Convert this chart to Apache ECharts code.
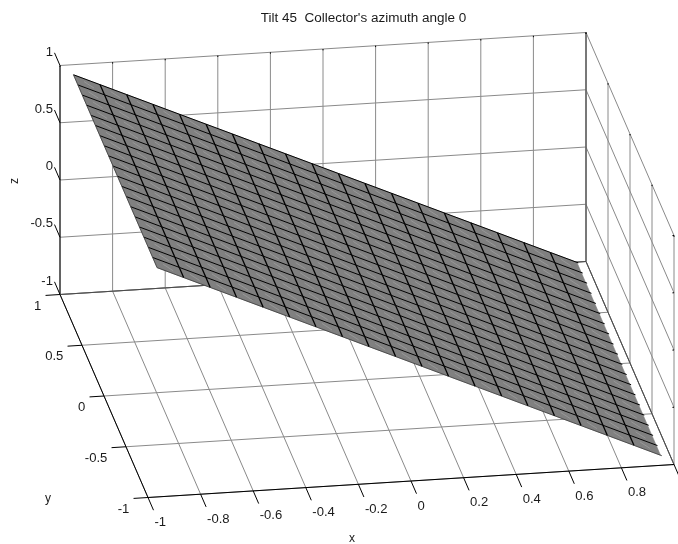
<!DOCTYPE html>
<html>
<head>
<meta charset="utf-8">
<style>html,body{margin:0;padding:0;background:#fff}#main{width:678px;height:544px}</style>
<script src="https://cdn.jsdelivr.net/npm/echarts@6/dist/echarts.min.js"></script>
</head>
<body>
<div id="main"></div>
<script>
// ---- data ----
const xTicks = [-1, -0.8, -0.6, -0.4, -0.2, 0, 0.2, 0.4, 0.6, 0.8, 1];
const yTicks = [-1, -0.5, 0, 0.5, 1];
const zTicks = [-1, -0.5, 0, 0.5, 1];
const xTickLabels = ['-1', '-0.8', '-0.6', '-0.4', '-0.2', '0', '0.2', '0.4', '0.6', '0.8'];
const yTickLabels = ['-1', '-0.5', '0', '0.5', '1'];
const zTickLabels = ['-1', '-0.5', '0', '0.5', '1'];
const surfaceX = [-0.957, -0.856, -0.755, -0.655, -0.554, -0.453, -0.353, -0.252, -0.151, -0.05, 0.05, 0.151, 0.252, 0.353, 0.453, 0.554, 0.655, 0.755, 0.856, 0.957];
const surfaceY = [-0.95, -0.85, -0.75, -0.65, -0.55, -0.45, -0.35, -0.25, -0.15, -0.05, 0.05, 0.15, 0.25, 0.35, 0.45, 0.55, 0.65, 0.75, 0.85, 0.95];
// height of the tilted plane for each surfaceX column (constant along y)
const surfaceZ = [0.957, 0.856, 0.755, 0.655, 0.554, 0.453, 0.353, 0.252, 0.151, 0.05, -0.05, -0.151, -0.252, -0.353, -0.453, -0.554, -0.655, -0.755, -0.856, -0.957];
const titleText = "Tilt 45  Collector's azimuth angle 0";

// ---- orthographic view of the 3-D box onto the page plane ----
const VIEW = { cx: 367, cy: 265, ex: [263, -16.5], ey: [-44, -101.5], ez: [0, -114.5] };
function project(x, y, z) {
  return [
    VIEW.cx + x * VIEW.ex[0] + y * VIEW.ey[0] + z * VIEW.ez[0],
    VIEW.cy + x * VIEW.ex[1] + y * VIEW.ey[1] + z * VIEW.ez[1]
  ];
}

const GRID = '#8a8a8a', AXIS = '#000000', EDGE = '#3a3a3a';
const STYLES = [
  { stroke: GRID, lineWidth: 1 },
  { stroke: AXIS, lineWidth: 1 },
  { stroke: '#4a4a4a', lineWidth: 1 }
];

// ---- box: walls, floor, axes, ticks ----
const box = [];
function seg(a, b, s) { box.push([a[0], a[1], a[2], b[0], b[1], b[2], s]); }
zTicks.forEach(z => { seg([-1, 1, z], [1, 1, z], 0); seg([1, 1, z], [1, -1, z], 0); });
xTicks.forEach(x => { seg([x, 1, -1], [x, 1, 1], 0); seg([x, 1, -1], [x, -1, -1], 0); });
yTicks.forEach(y => { seg([1, y, -1], [1, y, 1], 0); seg([-1, y, -1], [1, y, -1], 0); });
seg([-1, 1, -1], [-1, 1, 1], 1);
seg([-1, 1, -1], [-1, -1, -1], 1);
seg([-1, -1, -1], [1, -1, -1], 1);
seg([-1, 1, -1], [1, 1, -1], 2);
seg([1, 1, -1], [1, 1, 1], 2);
seg([1, 1, -1], [1, -1, -1], 2);
const TICK_XZ = 0.125, TICK_Y = 0.055, TICK_SMALL = 0.012;
xTicks.forEach(x => { seg([x, -1, -1], [x, -1 - TICK_XZ, -1], 1); seg([x, 1, 1], [x, 1, 1 - TICK_SMALL], 1); });
yTicks.forEach(y => { seg([-1, y, -1], [-1 - TICK_Y, y, -1], 1); seg([1, y, 1], [1, y, 1 - TICK_SMALL], 1); });
zTicks.forEach(z => { seg([-1, 1, z], [-1, 1 + TICK_XZ, z], 1); seg([1, -1, z], [1 - 0.006, -1, z], 1); });

// ---- surface patches, seams and wires, all built from the arrays ----
const patches = [];
for (let i = 0; i < surfaceX.length - 1; i++) {
  for (let j = 0; j < surfaceY.length - 1; j++) patches.push([i, j]);
}
const wires = [];
// wire row: [i0, j0, i1, j1, overshoot, edge, steep]
// lines of constant y run across the full width and stick out past the last column
surfaceY.forEach((y, j) => {
  for (let i = 0; i < surfaceX.length - 1; i++) wires.push([i, j, i + 1, j, i === surfaceX.length - 2 ? 1 : 0, j === 0 ? 1 : 0, 0]);
});
// lines of constant x; the last column has no visible wire
surfaceX.slice(0, -1).forEach((x, i) => {
  for (let j = 0; j < surfaceY.length - 1; j++) wires.push([i, j, i, j + 1, 0, i === 0 ? 1 : 0, 1]);
});
const corner = (i, j) => project(surfaceX[i], surfaceY[j], surfaceZ[i]);

// ---- tick label rows: [x, y, z, text, kind] ----
const labels = [];
xTickLabels.forEach((t, k) => labels.push([xTicks[k], -1 - TICK_XZ, -1, t, 0]));
yTickLabels.forEach((t, k) => labels.push([-1 - TICK_Y, yTicks[k], -1, t, 1]));
zTickLabels.forEach((t, k) => labels.push([-1, 1 + TICK_XZ, zTicks[k], t, 2]));
const LABEL_STYLE = [
  { dx: 1, dy: 12.5, align: 'left' },
  { dx: -4.2, dy: 11, align: 'right' },
  { dx: -1.5, dy: -0.5, align: 'right' }
];
const FONT = '12px "Liberation Sans", Arial, sans-serif';
const TEXT = '#1a1a1a';
const TICK_STRETCH = 1.09, TITLE_STRETCH = 1.125;

const chart = echarts.init(document.getElementById('main'), null, { renderer: 'canvas' });
chart.setOption({
  animation: false,
  backgroundColor: '#ffffff',
  grid: { left: 0, right: 0, top: 0, bottom: 0 },
  xAxis: { type: 'value', min: 0, max: 678, show: false },
  yAxis: { type: 'value', min: 0, max: 544, inverse: true, show: false },
  graphic: [
    { type: 'text', x: 363.5, y: 18.5, scaleX: TITLE_STRETCH, style: { text: titleText, font: FONT, fill: TEXT, align: 'center', verticalAlign: 'middle' } },
    { type: 'text', x: 352, y: 539, style: { text: 'x', font: FONT, fill: TEXT, align: 'center', verticalAlign: 'middle' } },
    { type: 'text', x: 48, y: 499, style: { text: 'y', font: FONT, fill: TEXT, align: 'center', verticalAlign: 'middle' } },
    { type: 'text', x: 15, y: 181, rotation: Math.PI / 2, style: { text: 'z', font: FONT, fill: TEXT, align: 'center', verticalAlign: 'middle' } }
  ],
  series: [
    {
      name: 'box', type: 'custom', coordinateSystem: 'cartesian2d', silent: true, clip: false, z: 1,
      data: box,
      encode: { x: 0, y: 1 },
      renderItem(params, api) {
        const d = box[params.dataIndex];
        const a = api.coord(project(d[0], d[1], d[2]));
        const b = api.coord(project(d[3], d[4], d[5]));
        return { type: 'line', shape: { x1: a[0], y1: a[1], x2: b[0], y2: b[1] }, style: Object.assign({ fill: null }, STYLES[d[6]]) };
      }
    },
    {
      name: 'surface', type: 'custom', coordinateSystem: 'cartesian2d', silent: true, clip: false, z: 2,
      data: patches,
      encode: { x: 0, y: 1 },
      renderItem(params, api) {
        const [i, j] = patches[params.dataIndex];
        const pts = [corner(i, j), corner(i + 1, j), corner(i + 1, j + 1), corner(i, j + 1)].map(p => api.coord(p));
        return { type: 'polygon', shape: { points: pts }, style: { fill: '#808080', stroke: '#808080', lineWidth: 0.6 } };
      }
    },
    {
      name: 'seams', type: 'custom', coordinateSystem: 'cartesian2d', silent: true, clip: false, z: 3,
      data: patches,
      encode: { x: 0, y: 1 },
      renderItem(params, api) {
        const [i, j] = patches[params.dataIndex];
        const p = api.coord(corner(i, j + 1)), q = api.coord(corner(i + 1, j));
        const f = 0.34;
        return {
          type: 'line',
          shape: { x1: p[0] + (q[0] - p[0]) * f, y1: p[1] + (q[1] - p[1]) * f, x2: q[0] - (q[0] - p[0]) * f, y2: q[1] - (q[1] - p[1]) * f },
          style: { stroke: '#9c9c9c', lineWidth: 0.8, fill: null }
        };
      }
    },
    {
      name: 'wires', type: 'custom', coordinateSystem: 'cartesian2d', silent: true, clip: false, z: 4,
      data: wires,
      encode: { x: 0, y: 1 },
      renderItem(params, api) {
        const d = wires[params.dataIndex];
        const a = api.coord(corner(d[0], d[1]));
        let b = api.coord(corner(d[2], d[3]));
        if (d[4]) {
          const len = Math.hypot(b[0] - a[0], b[1] - a[1]);
          b = [b[0] + (b[0] - a[0]) / len * 1.5, b[1] + (b[1] - a[1]) / len * 1.5];
        }
        return {
          type: 'line', shape: { x1: a[0], y1: a[1], x2: b[0], y2: b[1] },
          style: { stroke: d[5] ? EDGE : '#000000', lineWidth: d[5] ? 0.8 : (d[6] ? 1.3 : 1), fill: null }
        };
      }
    },
    {
      name: 'tick labels', type: 'custom', coordinateSystem: 'cartesian2d', silent: true, clip: false, z: 5,
      data: labels.map(l => [l[0], l[1], l[2]]),
      encode: { x: 0, y: 1 },
      renderItem(params, api) {
        const l = labels[params.dataIndex];
        const p = api.coord(project(l[0], l[1], l[2]));
        const s = LABEL_STYLE[l[4]];
        return {
          type: 'text', x: p[0] + s.dx, y: p[1] + s.dy, scaleX: TICK_STRETCH,
          style: { text: l[3], font: FONT, fill: TEXT, align: s.align, verticalAlign: 'middle' }
        };
      }
    }
  ]
});
</script>
</body>
</html>
